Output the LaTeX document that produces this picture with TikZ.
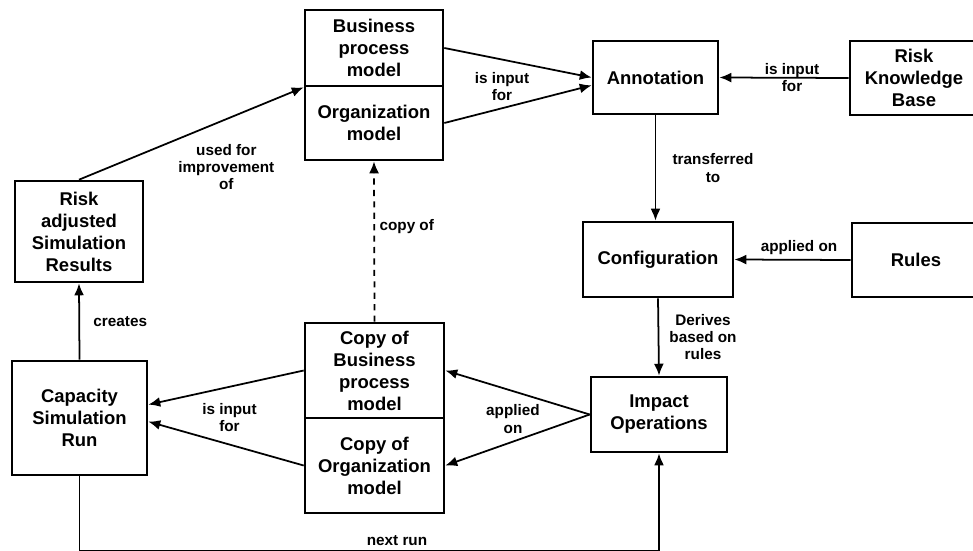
\documentclass[tikz,border=0pt]{standalone}
\usepackage{fontspec}
\setmainfont{Liberation Sans}
\usepackage{tikz}
\usetikzlibrary{arrows.meta}

\tikzset{
	box/.style={rectangle, draw, line width=1.5pt, align=center, inner sep=1pt, font=\fontsize{10.5}{12.5}\selectfont\bfseries},
	rel/.style={-{Latex[length=6.8pt,width=5.6pt]}, line width=1pt},
	lbl/.style={align=center, inner sep=0pt, font=\fontsize{8.7}{9.8}\selectfont\bfseries}
}

\begin{document}
\begin{tikzpicture}
		\useasboundingbox (0,0) rectangle (19.46,-11);
		
		%Nodes
		\node[box, minimum width=2.76cm, minimum height=1.52cm] (bpm) at (7.48,-0.96) {Business\\process\\model};
		\node[box, minimum width=2.76cm, minimum height=1.48cm] (org) at (7.48,-2.46) {Organization\\model};
		\node[box, minimum width=2.5cm, minimum height=1.46cm] (ann) at (13.11,-1.55) {Annotation};
		\node[box, minimum width=2.56cm, minimum height=1.48cm] (rkb) at (18.28,-1.56) {Risk\\Knowledge\\Base};
		\node[box, minimum width=3cm, minimum height=1.5cm] (conf) at (13.16,-5.19) {Configuration};
		\node[box, minimum width=2.56cm, minimum height=1.48cm] (rules) at (18.32,-5.2) {Rules};
		\node[box, minimum width=2.72cm, minimum height=1.5cm] (imp) at (13.18,-8.29) {Impact\\Operations};
		\node[box, minimum width=2.56cm, minimum height=2.02cm] (rasr) at (1.58,-4.63) {Risk\\adjusted\\Simulation\\Results};
		\node[box, minimum width=2.7cm, minimum height=2.28cm] (csr) at (1.59,-8.36) {Capacity\\Simulation\\Run};
		\node[box, minimum width=2.78cm, minimum height=1.9cm] (cbpm) at (7.49,-7.41) {Copy of\\Business\\process\\model};
		\node[box, minimum width=2.78cm, minimum height=1.9cm] (corg) at (7.49,-9.31) {Copy of\\Organization\\model};
		\coordinate (nr) at (7.94,-11.02);
		
		%Relations
		\draw[rel] (rasr.north) -- (bpm.south west) node[lbl, midway, xshift=0.7cm, yshift=-0.67cm] {used for\\improvement\\of};
		\draw[rel] (bpm.east) -- (ann.west) node[lbl, midway, xshift=-0.32cm, yshift=-0.47cm] {is input\\for};
		\draw[rel] (org.east) -- (ann.187);
		\draw[rel] (rkb.west) -- (ann.east) node[lbl, midway, xshift=0.16cm] {is input\\for};
		\draw[rel] (ann.south) -- (ann.south |- conf.north) node[lbl, midway, xshift=1.15cm] {transferred\\to};
		\draw[rel] (rules.west) -- (conf.east) node[lbl, midway, xshift=0.13cm, yshift=0.24cm] {applied on};
		\draw[rel] (conf.south) -- (imp.north) node[lbl, midway, xshift=0.89cm] {Derives\\based on\\rules};
		\draw[rel] (imp.west) -- (cbpm.east) node[lbl, midway, xshift=-0.09cm, yshift=-0.53cm] {applied\\on};
		\draw[rel] (imp.west) -- (corg.east);
		\draw[rel] (cbpm.west) -- (csr.11) node[lbl, midway, xshift=0.07cm, yshift=-0.6cm] {is input\\for};
		\draw[rel] (corg.west) -- (csr.-3);
		\draw[rel, dash pattern=on 3.5pt off 3pt] (cbpm.north) -- (org.south) node[lbl, midway, xshift=0.65cm, yshift=0.29cm] {copy of};
		\draw[rel] (csr.north) -- (rasr.south) node[lbl, midway, xshift=0.82cm] {creates};
		\draw[rel] (csr.south) |- (nr) node[lbl, yshift=0.21cm] {next run} -| (imp.south);
	\end{tikzpicture}
\end{document}
